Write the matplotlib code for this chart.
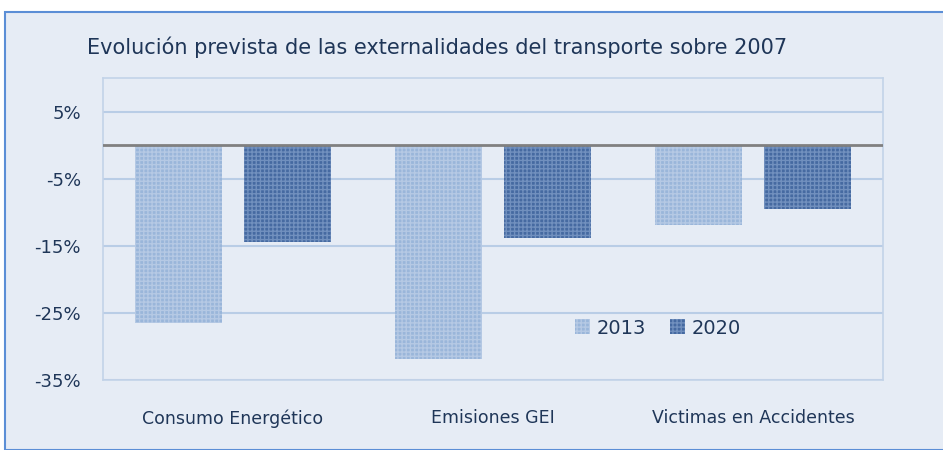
import matplotlib
matplotlib.use("Agg")
import matplotlib.pyplot as plt
from matplotlib.patches import Rectangle

categories = ["Consumo Energético", "Emisiones GEI", "Victimas en Accidentes"]
series_names = ["2013", "2020"]
values_2013 = [-26.5, -31.8, -11.9]
values_2020 = [-14.4, -13.9, -9.5]
yticks = [5, -5, -15, -25, -35]
title = "Evolución prevista de las externalidades del transporte sobre 2007"

plt.rcParams['font.family'] = ['DejaVu Sans']
plt.rcParams['hatch.linewidth'] = 1.0

BG = "#E6ECF5"
TXT = "#1F3658"
fig = plt.figure(figsize=(9.43, 4.5), dpi=100)
fig.patch.set_facecolor("white")
fig.add_artist(Rectangle((5/943, 0), 1, 1 - 12/450, transform=fig.transFigure,
                         facecolor=BG, edgecolor="#5B8ED6", linewidth=1.5, zorder=-10))

ax = fig.add_axes([103/943, 1 - 380/450, 780/943, 302/450])
ax.set_facecolor(BG)
x = range(len(categories))
w = 0.335
off = 0.208
ax.bar([i - off for i in x], values_2013, width=w, color="#9AB6DA", edgecolor="#B5C9E4",
       hatch="++++", linewidth=0, zorder=3, label=series_names[0])
ax.bar([i + off for i in x], values_2020, width=w, color="#466AA1", edgecolor="#7190BE",
       hatch="++++", linewidth=0, zorder=3, label=series_names[1])

ax.set_xlim(-0.5, 2.5)
ax.set_ylim(-35, 10)
ax.set_yticks(yticks)
ax.set_yticklabels([f"{v}%" for v in yticks], fontsize=13, color=TXT)
ax.set_xticks(list(x))
ax.set_xticklabels(categories, fontsize=12.5, color=TXT)
ax.tick_params(axis='both', length=0)
ax.tick_params(axis='y', pad=16)
ax.tick_params(axis='x', pad=21)
ax.grid(axis='y', color="#B9CDE6", linewidth=1.5, zorder=0)
ax.axhline(0, color="#808080", linewidth=2, zorder=4)
for s in ax.spines.values():
    s.set_color("#C3D3E8")
    s.set_linewidth(1.2)

leg = ax.legend(loc="center", bbox_to_anchor=((658-103)/780, (380-328)/302), ncol=2,
                frameon=False, fontsize=14, handlelength=0.8, handleheight=0.8,
                handletextpad=0.35, columnspacing=1.2, labelcolor=TXT)

fig.text(87/943, 1 - 47/450, title, fontsize=15, color=TXT, va="center", ha="left")

fig.savefig("out.png", dpi=100, facecolor=fig.get_facecolor())
